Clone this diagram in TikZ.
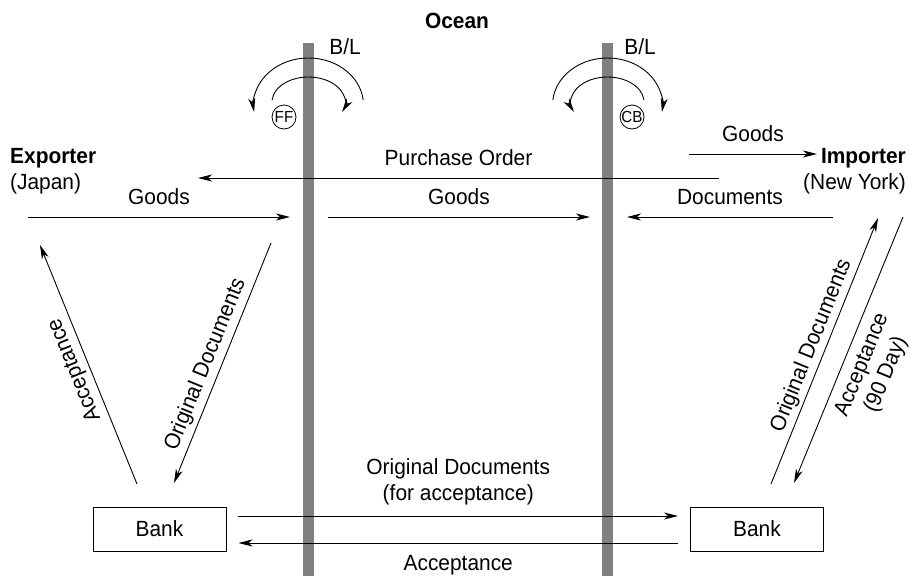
\documentclass[tikz,border=0pt]{standalone}
\usepackage{fontspec}
\setmainfont{Liberation Sans}[FakeStretch=0.95]
\usetikzlibrary{arrows.meta,positioning}

\begin{document}
\begin{tikzpicture}[x=1pt, y=-1pt,
    every node/.style={font=\fontsize{22}{26}\selectfont},
    flow/.style={-{Stealth[length=14pt, width=7pt, inset=4pt]}, line width=0.9pt},
    pillar/.style={fill=black!50, minimum width=11pt, minimum height=533pt, inner sep=0pt},
    bank/.style={draw, line width=1pt, minimum width=133pt, minimum height=44pt},
    agent/.style={circle, draw, line width=0.8pt, minimum size=24pt, inner sep=0pt,
                  font=\fontsize{16}{18}\selectfont}]

\useasboundingbox (0,0) rectangle (911,576);

% The ocean: two grey bars
\node[pillar] (oceanL) at (308.5, 309.5) {};
\node[pillar] (oceanR) at (607.5, 309.5) {};
\node[font=\fontsize{22}{26}\selectfont\bfseries] (ocean) at (457, 21) {Ocean};

% Trading parties and their banks
\node[anchor=west, align=left, inner sep=0pt]  (exporter) at (10, 171)  {\textbf{Exporter}\\(Japan)};
\node[anchor=east, align=right, inner sep=0pt] (importer) at (906, 171) {\textbf{Importer}\\(New York)};
\node[bank] (bankL) at (159.5, 529) {Bank};
\node[bank] (bankR) at (757, 529)   {Bank};

% Forwarder and customs broker
\node[agent] (ff) at (284, 117) {FF};
\node[agent] (cb) at (632, 117) {CB};
\node (blL) at (345, 47) {B/L};
\node (blR) at (640, 47) {B/L};

% B/L hand-over arcs over each bar
\coordinate (arcL) at (308.5, 105);
\coordinate (arcR) at (607.5, 105);
\draw[flow] (arcL) ++(-6:55 and 47) arc[start angle=-6, end angle=-188.6, x radius=55, y radius=47];
\draw[flow] ([yshift=3pt]arcL) ++(-175.4:36.5 and 25) arc[start angle=-175.4, end angle=23.6, x radius=36.5, y radius=25];
\draw[flow] (arcR) ++(-174:55 and 47) arc[start angle=-174, end angle=8.6, x radius=55, y radius=47];
\draw[flow] ([yshift=3pt]arcR) ++(-4.6:36.5 and 25) arc[start angle=-4.6, end angle=-203.6, x radius=36.5, y radius=25];

% Free ends of the horizontal flows
\coordinate (goodsA) at (28, 217);  \coordinate (goodsB) at (290, 217);
\coordinate (goodsC) at (328, 217); \coordinate (goodsD) at (590, 217);
\coordinate (docsA)  at (833, 217); \coordinate (docsB)  at (627, 217);
\coordinate (orderA) at (719, 178); \coordinate (orderB) at (198, 178);
\coordinate (goodsE) at (689, 154); \coordinate (goodsF) at (817, 154);

\foreach \src/\dst/\txt in {goodsA/goodsB/Goods, goodsC/goodsD/Goods, docsA/docsB/Documents,
                            orderA/orderB/Purchase Order, goodsE/goodsF/Goods} {
  \draw[flow] (\src) -- (\dst) node[midway, above=8.5pt] {\txt};
}

% Between the two banks
\draw[flow, shorten <=11pt, shorten >=12pt] ([yshift=13pt]bankL.east) -- ([yshift=13pt]bankR.west)
  node[midway, above=7pt, align=center] {Original Documents\\(for acceptance)};
\draw[flow, shorten <=12pt, shorten >=12pt] ([yshift=-14pt]bankR.west) -- ([yshift=-14pt]bankL.east)
  node[midway, below=8.5pt] {Acceptance};

% Diagonal flows to and from the banks
\coordinate (accLa) at (137, 484); \coordinate (accLb) at (40, 245);
\coordinate (odLa)  at (271, 243); \coordinate (odLb)  at (174, 483);
\coordinate (odRa)  at (771, 484); \coordinate (odRb)  at (878, 218);
\coordinate (accRa) at (903, 217); \coordinate (accRb) at (794, 483);

\draw[flow] (accLa) -- (accLb) node[midway, sloped, allow upside down, above=1pt] {Acceptance};
\draw[flow] (odLa) -- (odLb) node[pos=0.53, sloped, above=1pt] {Original Documents};
\draw[flow] (odRa) -- (odRb) node[midway, sloped, above=0pt] {Original Documents};
\draw[flow] (accRa) -- (accRb) node[pos=0.53, sloped, below=5pt, align=center] {Acceptance\\(90 Day)};

\end{tikzpicture}
\end{document}
